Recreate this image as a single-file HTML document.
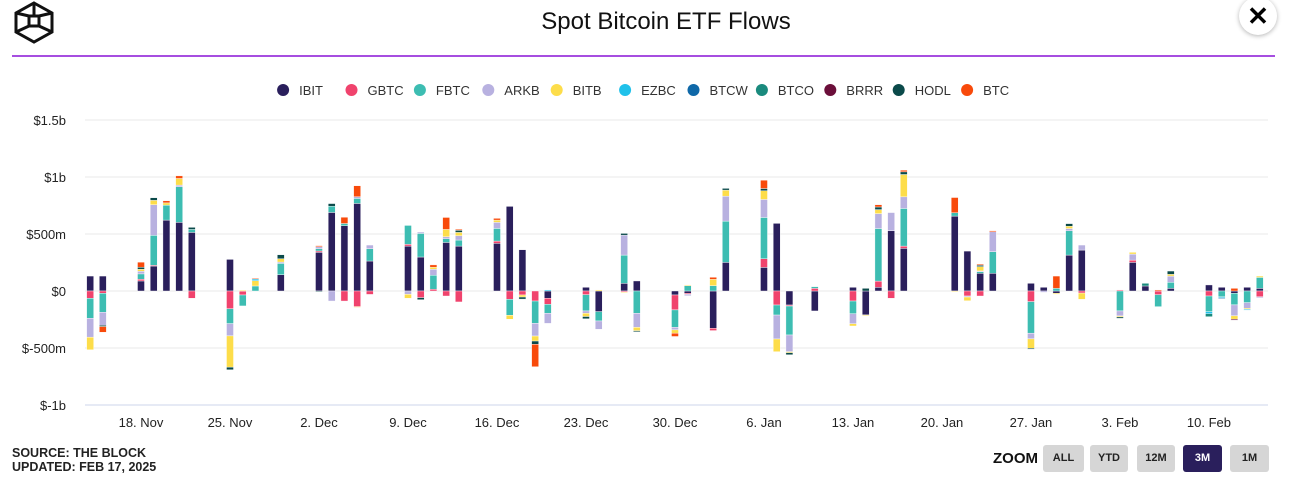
<!DOCTYPE html>
<html><head><meta charset="utf-8">
<style>
body{margin:0;width:1292px;height:487px;background:#fff;font-family:"Liberation Sans",sans-serif;overflow:hidden;position:relative}
.btn{position:absolute;top:445px;height:27px;background:#d6d6d6;border-radius:3px;font-size:11px;font-weight:bold;color:#222;text-align:center;line-height:27px}
</style></head><body>
<svg style="position:absolute;left:12px;top:0" width="46" height="46" viewBox="0 0 46 46">
<g fill="none" stroke="#111" stroke-width="3">
<polygon points="22,3 40,13 40,32 22,42 4,32 4,13"/>
<rect x="17" y="16" width="10" height="10"/>
<line x1="4" y1="13" x2="17" y2="16"/><line x1="40" y1="13" x2="27" y2="16"/>
<line x1="22" y1="3" x2="22" y2="16"/><line x1="17" y1="26" x2="4" y2="32"/><line x1="27" y1="26" x2="40" y2="32"/>
</g></svg>
<div style="position:absolute;left:0;width:1332px;top:8px;text-align:center;font-size:24px;color:#111">Spot Bitcoin ETF Flows</div>
<div style="position:absolute;left:1239px;top:-3px;width:38px;height:38px;border-radius:50%;background:#fff;box-shadow:0 1px 5px rgba(0,0,0,.3);text-align:center;line-height:38px;font-size:26px;font-weight:bold">✕</div>
<div style="position:absolute;left:12px;top:55px;width:1263px;height:2px;background:#a64ee0"></div>
<svg id="chart" style="position:absolute;left:0;top:0" width="1292" height="440"></svg>
<div style="position:absolute;left:12px;top:446px;font-size:12.5px;font-weight:bold;color:#222;line-height:14px">SOURCE: THE BLOCK<br>UPDATED: FEB 17, 2025</div>
<div style="position:absolute;left:993px;top:450px;font-size:15px;font-weight:bold;color:#111">ZOOM</div>
<div class="btn" style="left:1043px;width:41px">ALL</div>
<div class="btn" style="left:1090px;width:38px">YTD</div>
<div class="btn" style="left:1137px;width:38px">12M</div>
<div class="btn" style="left:1183px;width:39px;background:#2a1f5c;color:#fff">3M</div>
<div class="btn" style="left:1230px;width:39px">1M</div>
<script>
const dates=["2024-11-14","2024-11-15","2024-11-18","2024-11-19","2024-11-20","2024-11-21","2024-11-22","2024-11-25","2024-11-26","2024-11-27","2024-11-29","2024-12-02","2024-12-03","2024-12-04","2024-12-05","2024-12-06","2024-12-09","2024-12-10","2024-12-11","2024-12-12","2024-12-13","2024-12-16","2024-12-17","2024-12-18","2024-12-19","2024-12-20","2024-12-23","2024-12-24","2024-12-26","2024-12-27","2024-12-30","2024-12-31","2025-01-02","2025-01-03","2025-01-06","2025-01-07","2025-01-08","2025-01-10","2025-01-13","2025-01-14","2025-01-15","2025-01-16","2025-01-17","2025-01-21","2025-01-22","2025-01-23","2025-01-24","2025-01-27","2025-01-28","2025-01-29","2025-01-30","2025-01-31","2025-02-03","2025-02-04","2025-02-05","2025-02-06","2025-02-07","2025-02-10","2025-02-11","2025-02-12","2025-02-13","2025-02-14"];
const seriesNames=["IBIT","GBTC","FBTC","ARKB","BITB","EZBC","BTCW","BTCO","BRRR","HODL","BTC"];
const seriesColors=["#2a1f5c","#f0436d","#3dbdb2","#b8b1e0","#fddd4a","#20c1ea","#0f68a8","#1a8a7d","#6b0f3a","#0b4a4a","#f84a0b"];
const IBIT=[131,131,88,222,622,602,514,277,0,0,143,339,689,572,768,263,394,298,0,426,394,418,742,362,0,-64,32,-181,67,88,-35,-20,-327,251,207,593,-123,-175,32,-210,32,528,374,657,350,155,155,67,32,-20,315,359,0,251,44,0,23,53,32,-20,32,23];
const GBTC=[-64,-20,15,3,0,0,-64,-155,-35,0,0,12,0,-88,-137,-30,15,-58,15,-44,-96,20,-73,-35,-88,-53,-32,0,-9,0,-131,-9,-20,0,76,-123,-9,23,-88,0,55,-64,20,0,-44,-44,0,-93,0,0,0,-18,9,20,0,-32,0,-44,0,0,0,-50];
const FBTC=[-175,-166,47,263,131,312,26,-131,-96,44,99,20,55,20,44,108,166,207,123,32,53,111,-140,0,-196,-79,-143,-82,248,-196,-152,47,47,362,362,-88,-254,15,-111,0,461,0,330,29,0,15,190,-277,0,23,213,0,-175,0,0,-105,53,-137,-50,-102,-102,96];
const ARKB=[-166,-114,23,269,0,15,0,-108,0,0,12,18,-88,0,15,32,-29,12,53,18,38,53,0,0,-111,-88,-20,-73,175,-123,-23,-12,0,219,158,-210,-146,0,-88,0,131,160,102,0,-9,6,175,-50,-12,0,20,44,-44,53,0,0,55,0,0,-96,-50,-9];
const BITB=[-111,0,18,38,20,58,0,-274,6,47,29,0,0,0,-6,0,-35,0,18,64,29,20,-35,-18,-44,0,-29,9,-6,-29,-29,6,55,53,76,-111,-9,0,-20,-6,35,0,196,-6,-32,38,0,-82,0,-9,20,-55,-9,15,0,0,15,0,0,-29,-9,12];
const EZBC=[0,0,0,0,0,0,0,0,0,15,0,0,0,0,0,0,0,0,0,0,0,0,0,0,0,9,0,0,0,0,0,0,0,0,0,0,0,0,0,0,0,0,0,0,0,0,0,0,0,0,0,0,0,0,0,0,0,-18,-9,0,-6,0];
const BTCW=[0,0,0,0,0,0,0,0,0,0,0,0,0,0,0,0,0,0,0,0,0,0,0,0,0,0,0,0,0,0,0,0,0,0,0,0,0,0,0,0,0,0,0,0,0,0,0,0,0,0,0,0,0,0,0,0,0,0,-6,0,0,0];
const BTCO=[0,0,0,0,0,0,0,0,0,0,0,0,0,0,0,0,0,0,0,0,0,0,0,0,0,0,0,0,0,0,0,0,0,0,0,0,0,0,0,0,0,0,0,0,0,0,0,0,0,0,0,0,0,0,23,0,0,-26,0,0,0,0];
const BRRR=[0,0,0,0,0,0,0,0,0,0,0,0,0,0,0,0,0,0,0,0,0,0,0,0,0,0,0,0,0,0,0,0,0,0,0,0,0,0,0,0,0,0,0,0,0,0,0,0,0,0,0,0,0,0,0,0,0,0,0,-9,0,0];
const HODL=[0,-12,18,23,0,0,18,-23,0,0,35,-6,23,0,0,0,0,-18,0,0,18,0,0,-18,-29,0,-20,0,15,-9,0,0,0,15,20,0,-18,0,0,23,23,0,23,0,0,12,0,-9,0,0,23,0,-12,0,0,0,29,0,0,0,0,0];
const BTC=[0,-50,44,0,18,23,0,0,0,6,0,9,0,55,96,0,0,0,20,105,9,15,0,0,-196,0,0,0,0,0,-29,0,18,0,73,0,0,0,0,0,20,0,15,134,0,9,9,0,0,108,0,0,0,0,0,9,0,0,0,23,0,0];
const yTicks=[1500,1000,500,0,-500,-1000];
const yTickLabels=["$1.5b","$1b","$500m","$0","$-500m","$-1b"];
const xTickDates=["2024-11-18","2024-11-25","2024-12-02","2024-12-09","2024-12-16","2024-12-23","2024-12-30","2025-01-06","2025-01-13","2025-01-20","2025-01-27","2025-02-03","2025-02-10"];
const xTickLabels=["18. Nov","25. Nov","2. Dec","9. Dec","16. Dec","23. Dec","30. Dec","6. Jan","13. Jan","20. Jan","27. Jan","3. Feb","10. Feb"];

const series=[IBIT,GBTC,FBTC,ARKB,BITB,EZBC,BTCW,BTCO,BRRR,HODL,BTC];
const NS="http://www.w3.org/2000/svg";
const svg=document.getElementById('chart');
const t0=Date.parse("2024-11-18");
function xScale(d){return 141+(Date.parse(d)-t0)/86400000*12.714;}
function yScale(v){return 291-v*0.114;}
function mk(tag,attrs){const e=document.createElementNS(NS,tag);for(const k in attrs)e.setAttribute(k,attrs[k]);svg.appendChild(e);return e;}
yTicks.forEach((v,i)=>{
  const g=mk('line',{x1:85,x2:1268,y1:yScale(v),y2:yScale(v),stroke:'#e8e8e8','stroke-width':1});
  
  
  const t=mk('text',{x:66,y:yScale(v)+5,'text-anchor':'end','font-size':13,fill:'#222'});
  t.textContent=yTickLabels[i];
  
  
});
const ax=mk('line',{x1:85,x2:1268,y1:405,y2:405,stroke:'#ccd6eb','stroke-width':1});


xTickDates.forEach((d,i)=>{
  const t=mk('text',{x:xScale(d),y:427,'text-anchor':'middle','font-size':13,fill:'#222'});
  t.textContent=xTickLabels[i];
  
  
});
dates.forEach((d,i)=>{
  const x=xScale(d)-3.5;let pos=0,neg=0;
  series.forEach((s,k)=>{
    const v=s[i];if(!v)return;
    let y0,y1;
    if(v>0){y0=yScale(pos+v);y1=yScale(pos);pos+=v;}else{y0=yScale(neg);y1=yScale(neg+v);neg+=v;}
    const r=mk('rect',{x:x,y:y0,width:7,height:Math.max(y1-y0,0.8),fill:seriesColors[k],stroke:'#fff','stroke-width':0.4});
    
    
  });
});
const widths=[];let total=0;
seriesNames.forEach(n=>{const w=20+n.length*8.6+14;widths.push(w);total+=w;});
let lx=646-total/2+3;
seriesNames.forEach((n,k)=>{
  const c=mk('circle',{cx:lx+6,cy:90,r:6,fill:seriesColors[k]});
  
  
  const t=mk('text',{x:lx+22,y:95,'font-size':13,fill:'#333'});
  t.textContent=n;
  
  
  lx+=widths[k];
});
</script>
</body></html>
